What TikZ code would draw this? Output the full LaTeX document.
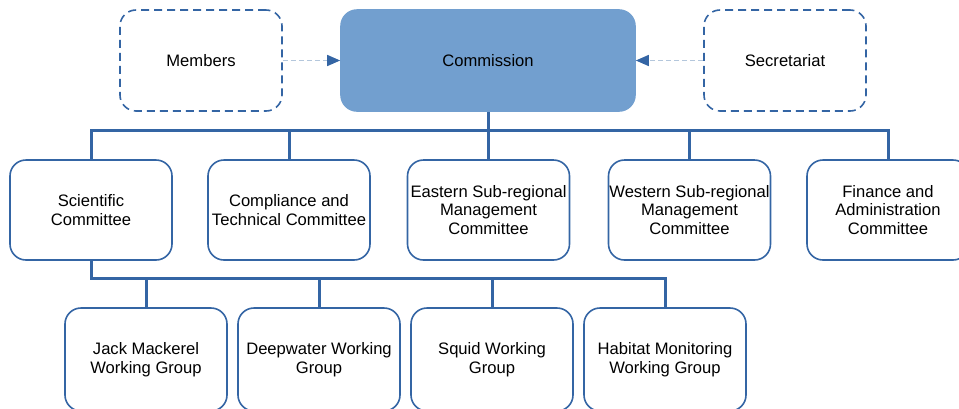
\documentclass[tikz,border=0pt]{standalone}
\usepackage{fontspec}
\setmainfont{Liberation Sans}
\usetikzlibrary{arrows.meta}
\definecolor{orgline}{HTML}{3465A4}
\definecolor{orgfill}{HTML}{729FCF}
\definecolor{orglight}{HTML}{B4C7DC}

\begin{document}
\begin{tikzpicture}[x=1pt,y=-1pt,
  font=\fontsize{16.6}{18.5}\selectfont,
  box/.style={draw=orgline, line width=1.6pt, rounded corners=16pt,
    minimum width=162pt, minimum height=100pt, align=center, inner sep=0pt},
  dashbox/.style={box, dash pattern=on 8pt off 5pt, minimum height=101pt},
  bus/.style={draw=orgline, line width=3pt, line join=miter},
  link/.style={draw=orglight, line width=1.4pt, dash pattern=on 5pt off 3pt,
    -{Triangle[length=13pt,width=11pt,color=orgline]}}]
\useasboundingbox (0,0) rectangle (959,408);

% top row
\node[dashbox] (mem) at (201,60.5) {Members};
\node[box, fill=orgfill, draw=orgfill, minimum width=294pt, minimum height=101pt] (com) at (488,60.5) {Commission};
\node[dashbox] (sec) at (785,60.5) {Secretariat};
\draw[link] (mem) -- (com);
\draw[link] (sec) -- (com);

% committees
\node[box] (sci) at (91,210) {Scientific\\Committee};
\node[box] (cta) at (289,210) {Compliance and\\Technical Committee};
\node[box] (esr) at (488.5,210) {Eastern Sub-regional\\Management\\Committee};
\node[box] (wsr) at (689.5,210) {Western Sub-regional\\Management\\Committee};
\node[box] (fin) at (888,210) {Finance and\\Administration\\Committee};

\coordinate (busA) at (488,130);
\draw[bus] (sci.north) |- (busA) -| (fin.north);
\draw[bus] (com.south) -- (busA);
\foreach \n in {cta,esr,wsr}
  \draw[bus] (\n.north) -- (\n.north |- busA);

% working groups, running off the lower edge
\tikzset{wgbox/.style={box, minimum height=103pt}}
\node[wgbox] (jmw) at (146,359.5) {Jack Mackerel\\Working Group};
\node[wgbox] (dww) at (319,359.5) {Deepwater Working\\Group};
\node[wgbox] (sqw) at (492,359.5) {Squid Working\\Group};
\node[wgbox] (hmw) at (665,359.5) {Habitat Monitoring\\Working Group};

\coordinate (busB) at (665,278);
\draw[bus] (sci.south) |- (busB) -- (hmw.north);
\foreach \n in {jmw,dww,sqw}
  \draw[bus] (\n.north) -- (\n.north |- busB);
\end{tikzpicture}
\end{document}
